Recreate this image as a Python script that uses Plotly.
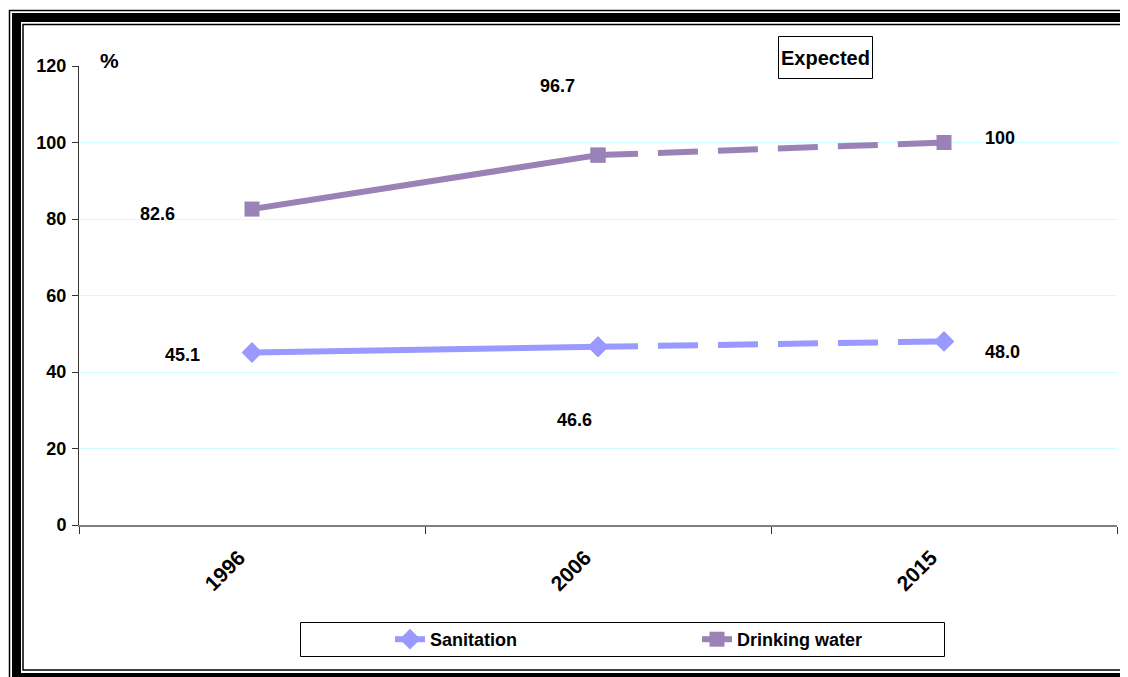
import plotly.graph_objects as go

# ---- data ----
years = ["1996", "2006", "2015"]
sanitation = [45.1, 46.6, 48.0]
drinking_water = [82.6, 96.7, 100]
sanitation_labels = ["45.1", "46.6", "48.0"]
drinking_labels = ["82.6", "96.7", "100"]
y_ticks = [0, 20, 40, 60, 80, 100, 120]

# ---- layout geometry (page pixels; the page body adds an 8px offset) ----
OFF = 8
WIN_W, WIN_H = 1128, 677
PLOT_L, PLOT_R, PLOT_T, PLOT_B = 79, 1117, 66, 525
W, H = WIN_W - OFF, WIN_H - OFF
ML, MT = PLOT_L - OFF, PLOT_T - OFF
MR, MB = WIN_W - PLOT_R, WIN_H - PLOT_B
PW, PH = PLOT_R - PLOT_L, PLOT_B - PLOT_T


def px(x):
    return (x - PLOT_L) / PW


def py(y):
    return (PLOT_B - y) / PH


SAN_COLOR = "#9999FF"
DW_COLOR = "#9A82B6"
FONT = "Arial, Liberation Sans, sans-serif"

fig = go.Figure()

# solid segments (observed)
fig.add_trace(go.Scatter(
    x=years[:2], y=sanitation[:2], mode="lines+markers", name="Sanitation",
    line=dict(color=SAN_COLOR, width=6),
    marker=dict(symbol="diamond", size=16, color=SAN_COLOR),
))
fig.add_trace(go.Scatter(
    x=years[:2], y=drinking_water[:2], mode="lines+markers", name="Drinking water",
    line=dict(color=DW_COLOR, width=6),
    marker=dict(symbol="square", size=15, color=DW_COLOR),
))
# dashed segments (expected)
fig.add_trace(go.Scatter(
    x=years[1:], y=sanitation[1:], mode="lines+markers", showlegend=False,
    line=dict(color=SAN_COLOR, width=6, dash="40px,20px"),
    marker=dict(symbol="diamond", size=16, color=SAN_COLOR),
))
fig.add_trace(go.Scatter(
    x=years[1:], y=drinking_water[1:], mode="lines+markers", showlegend=False,
    line=dict(color=DW_COLOR, width=6, dash="40px,20px"),
    marker=dict(symbol="square", size=15, color=DW_COLOR),
))

# data labels
san_offsets = [(-70, -3), (-24, -73), (58, -11)]
dw_offsets = [(-95, -5), (-41, 69), (56, 5)]
label_font = dict(family=FONT, size=18, color="black", weight="bold")
annotations = []
for i in range(len(years)):
    annotations.append(dict(xref="x", yref="y", x=i, y=sanitation[i], text=sanitation_labels[i],
                            xshift=san_offsets[i][0], yshift=san_offsets[i][1],
                            showarrow=False, font=label_font))
    annotations.append(dict(xref="x", yref="y", x=i, y=drinking_water[i], text=drinking_labels[i],
                            xshift=dw_offsets[i][0], yshift=dw_offsets[i][1],
                            showarrow=False, font=label_font))

# "%" label and "Expected" label
annotations.append(dict(xref="paper", yref="paper", x=px(109), y=py(61), text="%",
                        showarrow=False, xanchor="center", yanchor="middle",
                        font=dict(family=FONT, size=21, color="black", weight="bold")))
annotations.append(dict(xref="paper", yref="paper", x=px(825.5), y=py(58), text="Expected",
                        showarrow=False, xanchor="center", yanchor="middle",
                        font=dict(family=FONT, size=20, color="black", weight="bold")))

shapes = []
# Expected box
shapes.append(dict(type="rect", xref="paper", yref="paper",
                   x0=px(778.5), x1=px(872.5), y0=py(36.5), y1=py(78.5),
                   line=dict(color="black", width=1), fillcolor="rgba(0,0,0,0)", layer="below"))
# legend box
shapes.append(dict(type="rect", xref="paper", yref="paper",
                   x0=px(300.5), x1=px(944.5), y0=py(622.5), y1=py(656.5),
                   line=dict(color="black", width=1), fillcolor="white", layer="below"))
# frame: outer thin, thick, inner thin
shapes.append(dict(type="rect", xref="paper", yref="paper",
                   x0=px(9.5), x1=px(1145), y0=py(10.5), y1=py(700),
                   line=dict(color="black", width=1.5)))
shapes.append(dict(type="rect", xref="paper", yref="paper",
                   x0=px(16.5), x1=px(1138), y0=py(17.5), y1=py(677.5),
                   line=dict(color="black", width=9)))
shapes.append(dict(type="rect", xref="paper", yref="paper",
                   x0=px(23), x1=px(1131), y0=py(24.5), y1=py(670),
                   line=dict(color="black", width=1.5)))

fig.update_layout(
    width=W, height=H,
    margin=dict(l=ML, r=MR, t=MT, b=MB, pad=0),
    paper_bgcolor="white", plot_bgcolor="white",
    font=dict(family=FONT, size=18, color="black"),
    xaxis=dict(
        type="category", range=[-0.5, 2.5],
        tickson="boundaries", ticks="outside", ticklen=7, tickcolor="#333333",
        showline=True, linecolor="#808080", linewidth=2,
        showgrid=False, tickangle=-45,
        ticklabelshift=-13, ticklabelstandoff=10,
        tickfont=dict(family=FONT, size=21, color="black", weight="bold"),
    ),
    yaxis=dict(
        range=[0, 120], tickvals=y_ticks,
        ticks="outside", ticklen=6, tickcolor="#333333",
        showline=True, linecolor="#333333", linewidth=1,
        showgrid=True, gridcolor="#CFFFFF", gridwidth=1,
        zeroline=False, ticklabelstandoff=2,
        tickfont=dict(family=FONT, size=18, color="black", weight="bold"),
    ),
    legend=dict(
        orientation="h", x=px(390), y=py(621), xanchor="left", yanchor="top",
        borderwidth=0, bgcolor="rgba(0,0,0,0)",
        entrywidth=262, entrywidthmode="pixels",
        font=dict(family=FONT, size=18, color="black", weight="bold"),
    ),
    annotations=annotations,
    shapes=shapes,
)

fig.write_html("out.html")
